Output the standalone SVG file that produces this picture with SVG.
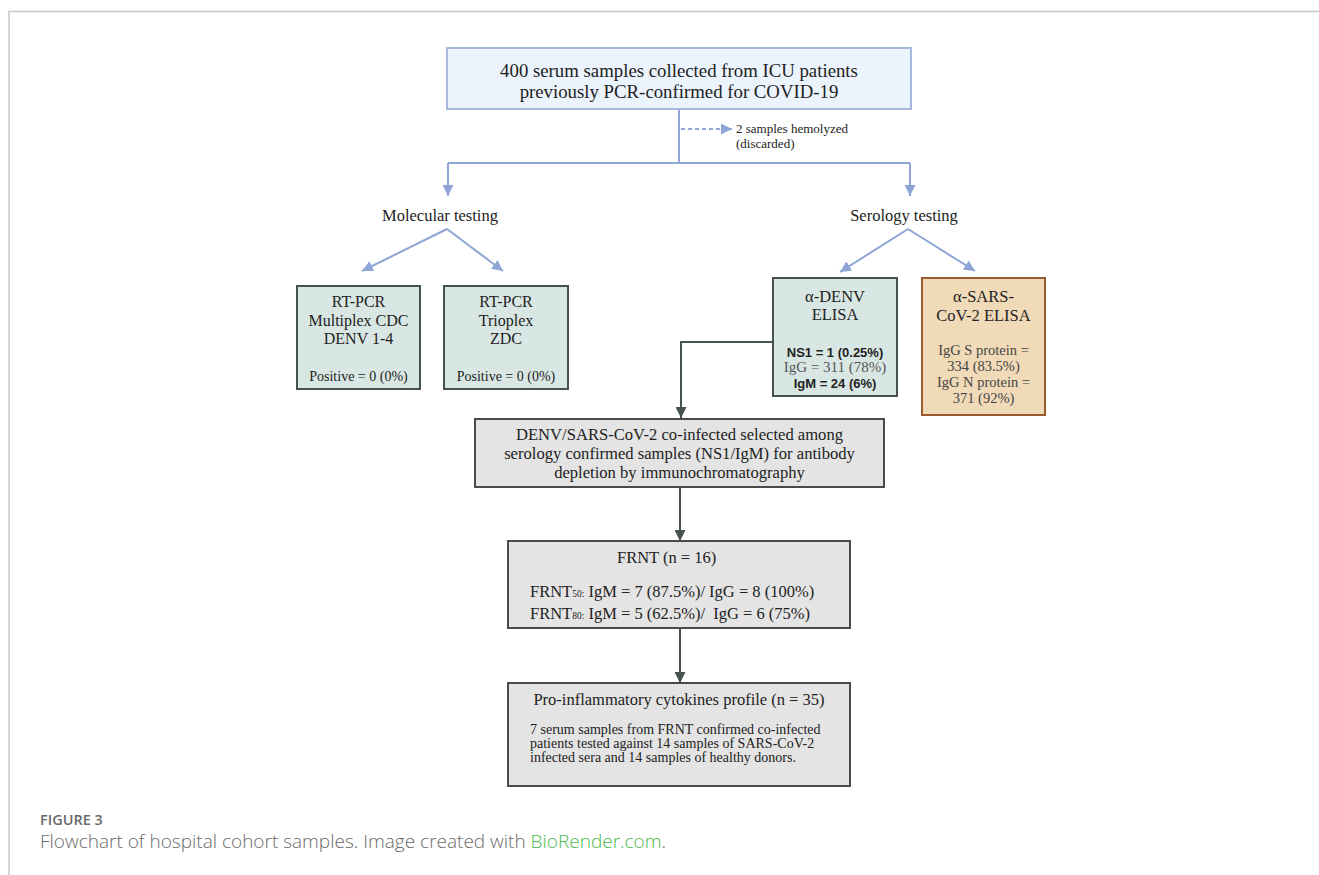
<svg xmlns="http://www.w3.org/2000/svg" width="1319" height="875" viewBox="0 0 1319 875">
<defs>
<style>
.t{font-family:"Liberation Serif","Times New Roman",serif;fill:#222}
.s{font-family:"Liberation Sans",Arial,sans-serif;fill:#222;font-weight:bold}
.blue{stroke:#8ea5d5;stroke-width:2;fill:none}
.dark{stroke:#46524f;stroke-width:2;fill:none}
.cap{font-family:"Open Sans","Liberation Sans",sans-serif;fill:#6a6a6a}
</style>
<marker id="ab" viewBox="0 0 10 10" refX="10" refY="5" markerWidth="11" markerHeight="11" markerUnits="userSpaceOnUse" orient="auto"><path d="M0,0 L10,5 L0,10 z" fill="#8ea5d5"/></marker>
<marker id="ad" viewBox="0 0 10 10" refX="10" refY="5" markerWidth="11" markerHeight="11" markerUnits="userSpaceOnUse" orient="auto"><path d="M0,0 L10,5 L0,10 z" fill="#46524f"/></marker>
</defs>
<rect width="1319" height="875" fill="#fff"/>
<path d="M9,875 V11.5 H1319" fill="none" stroke="#c8c8c8" stroke-width="1.5"/>

<g id="connectors">
<path class="blue" d="M679,109 V163"/>
<path class="blue" d="M681,129 H732" stroke-dasharray="4,3" marker-end="url(#ab)"/>
<path class="blue" d="M448,163 H910"/>
<path class="blue" d="M448,163 V196" marker-end="url(#ab)"/>
<path class="blue" d="M910,163 V196" marker-end="url(#ab)"/>
<path class="blue" d="M447,229 L362,271" marker-end="url(#ab)"/>
<path class="blue" d="M447,229 L503,271" marker-end="url(#ab)"/>
<path class="blue" d="M908,229 L840,272" marker-end="url(#ab)"/>
<path class="blue" d="M908,229 L975,271" marker-end="url(#ab)"/>
<path class="dark" d="M773,342 H681 V418" marker-end="url(#ad)"/>
<path class="dark" d="M680,487 V541" marker-end="url(#ad)"/>
<path class="dark" d="M680,629 V683" marker-end="url(#ad)"/>
</g>

<g id="top">
<rect x="447" y="48" width="464" height="61" fill="#ebf3fc" stroke="#a6b8de" stroke-width="2"/>
<text class="t" x="679" y="77" font-size="18.8" text-anchor="middle">400 serum samples collected from ICU patients</text>
<text class="t" x="679" y="98" font-size="18.8" text-anchor="middle">previously PCR-confirmed for COVID-19</text>
</g>

<g id="hemolyzed">
<text class="t" x="736" y="133" font-size="13">2 samples hemolyzed</text>
<text class="t" x="736" y="148" font-size="13">(discarded)</text>
</g>

<g id="molecular">
<text class="t" x="440" y="221" font-size="16.5" text-anchor="middle">Molecular testing</text>
</g>
<g id="serology">
<text class="t" x="904" y="221" font-size="16.5" text-anchor="middle">Serology testing</text>
</g>

<g id="rtpcr1">
<rect x="297" y="286" width="123" height="103" fill="#d9e7e4" stroke="#46524f" stroke-width="2"/>
<text class="t" x="358.5" y="307" font-size="16" text-anchor="middle">RT-PCR</text>
<text class="t" x="358.5" y="326" font-size="16" text-anchor="middle">Multiplex CDC</text>
<text class="t" x="358.5" y="344" font-size="16" text-anchor="middle">DENV 1-4</text>
<text class="t" x="358.5" y="381" font-size="14" text-anchor="middle">Positive = 0 (0%)</text>
</g>

<g id="rtpcr2">
<rect x="444" y="286" width="124" height="103" fill="#d9e7e4" stroke="#46524f" stroke-width="2"/>
<text class="t" x="506" y="307" font-size="16" text-anchor="middle">RT-PCR</text>
<text class="t" x="506" y="326" font-size="16" text-anchor="middle">Trioplex</text>
<text class="t" x="506" y="344" font-size="16" text-anchor="middle">ZDC</text>
<text class="t" x="506" y="381" font-size="14" text-anchor="middle">Positive = 0 (0%)</text>
</g>

<g id="denv">
<rect x="773" y="278" width="124" height="118" fill="#d9e7e4" stroke="#46524f" stroke-width="2"/>
<text class="t" x="835" y="302" font-size="16.5" text-anchor="middle">α-DENV</text>
<text class="t" x="835" y="320" font-size="16.5" text-anchor="middle">ELISA</text>
<text class="s" x="835" y="357" font-size="13" text-anchor="middle">NS1 = 1 (0.25%)</text>
<text class="t" x="835" y="372" font-size="15" text-anchor="middle" style="fill:#555">IgG = 311 (78%)</text>
<text class="s" x="835" y="388" font-size="13" text-anchor="middle">IgM = 24 (6%)</text>
</g>

<g id="sars">
<rect x="922" y="278" width="123" height="137" fill="#f1dab8" stroke="#9a5a2e" stroke-width="2"/>
<text class="t" x="983.5" y="302" font-size="16.5" text-anchor="middle">α-SARS-</text>
<text class="t" x="983.5" y="321" font-size="16.5" text-anchor="middle">CoV-2 ELISA</text>
<text class="t" x="983.5" y="355" font-size="14.5" text-anchor="middle" style="fill:#444">IgG S protein =</text>
<text class="t" x="983.5" y="371" font-size="14.5" text-anchor="middle" style="fill:#444">334 (83.5%)</text>
<text class="t" x="983.5" y="387" font-size="14.5" text-anchor="middle" style="fill:#444">IgG N protein =</text>
<text class="t" x="983.5" y="403" font-size="14.5" text-anchor="middle" style="fill:#444">371 (92%)</text>
</g>

<g id="coinfected">
<rect x="475" y="419" width="409" height="68" fill="#e4e4e4" stroke="#4a4a4a" stroke-width="2"/>
<text class="t" x="679.5" y="440" font-size="16.6" text-anchor="middle">DENV/SARS-CoV-2 co-infected selected among</text>
<text class="t" x="679.5" y="459" font-size="16.6" text-anchor="middle">serology confirmed samples (NS1/IgM) for antibody</text>
<text class="t" x="679.5" y="478" font-size="16.6" text-anchor="middle">depletion by immunochromatography</text>
</g>

<g id="frnt">
<rect x="508" y="541" width="342" height="87" fill="#e4e4e4" stroke="#4a4a4a" stroke-width="2"/>
<text class="t" x="617" y="563" font-size="16.5">FRNT (n = 16)</text>
<text class="t" x="530" y="597" font-size="16.5">FRNT<tspan font-size="9.5">50:</tspan> IgM = 7 (87.5%)/ IgG = 8 (100%)</text>
<text class="t" x="530" y="619" font-size="16.5" xml:space="preserve">FRNT<tspan font-size="9.5">80:</tspan> IgM = 5 (62.5%)/  IgG = 6 (75%)</text>
</g>

<g id="cytokines">
<rect x="508" y="683" width="342" height="103" fill="#e4e4e4" stroke="#4a4a4a" stroke-width="2"/>
<text class="t" x="679" y="705" font-size="16.5" text-anchor="middle">Pro-inflammatory cytokines profile (n = 35)</text>
<text class="t" x="530" y="734" font-size="14">7 serum samples from FRNT confirmed co-infected</text>
<text class="t" x="530" y="748" font-size="14">patients tested against 14 samples of SARS-CoV-2</text>
<text class="t" x="530" y="762" font-size="14">infected sera and 14 samples of healthy donors.</text>
</g>

<g id="caption">
<text class="cap" x="40" y="825" font-size="14.5" font-weight="600">FIGURE 3</text>
<text class="cap" x="40" y="848" font-size="19" font-weight="300">Flowchart of hospital cohort samples. Image created with <tspan style="fill:#4cb84c">BioRender.com</tspan>.</text>
</g>
</svg>
